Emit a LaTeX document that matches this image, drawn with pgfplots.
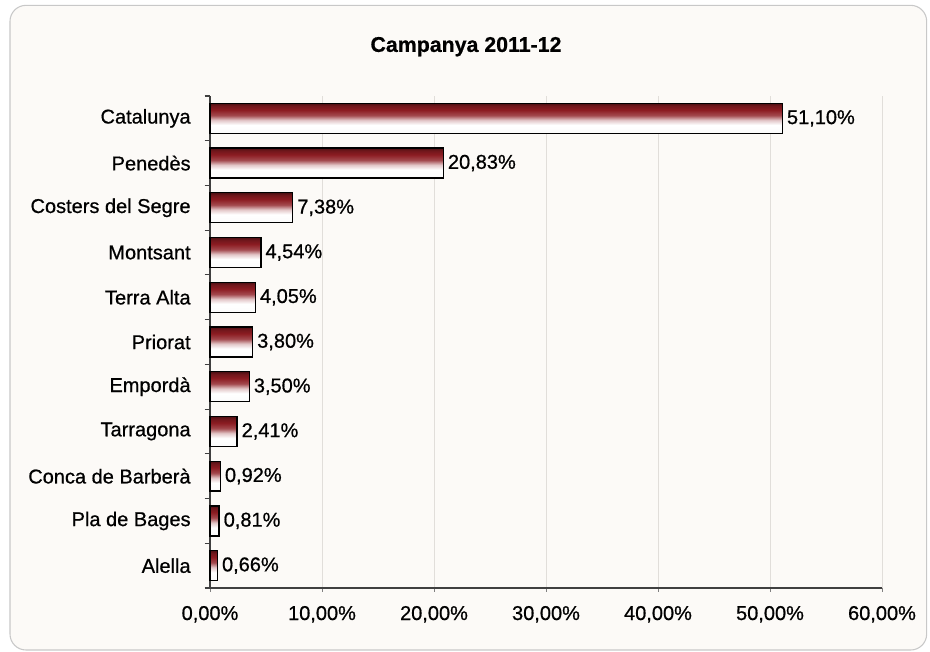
\documentclass[border=0pt]{standalone}
\usepackage{pgfplots}
\pgfplotsset{compat=1.18}
\usepackage{fontspec}
\setmainfont{Liberation Sans}[FakeBold=0.7]

\definecolor{barred}{RGB}{140,28,34}
\definecolor{bgpaper}{RGB}{252,250,247}
\definecolor{framegray}{RGB}{200,200,200}
\definecolor{gridgray}{RGB}{225,222,218}

% vertical gradient of the bars: white below, dark red on top
% (25bp = bottom edge of the bar, 75bp = top edge)
\pgfdeclareverticalshading{barshade}{100bp}{%
  color(0bp)=(white); color(25bp)=(white!97!gray); color(39bp)=(white);
  color(47bp)=(barred!25!white); color(55bp)=(barred!80!white);
  color(64bp)=(barred); color(71bp)=(barred!80!black); color(75bp)=(barred!55!black);
  color(100bp)=(barred!55!black)}

\pgfplotstableread{
pos share
0  0.66
1  0.81
2  0.92
3  2.41
4  3.50
5  3.80
6  4.05
7  4.54
8  7.38
9  20.83
10 51.10
}\shares

\begin{document}
\begin{tikzpicture}
% page and frame, in reference pixels (1px = 0.75pt)
\path[use as bounding box] (0pt,0pt) rectangle (697.5pt,489pt);
\draw[framegray, fill=bgpaper, line width=0.8pt, rounded corners=12pt] (7.5pt,1.5pt) rectangle (695pt,485pt);

\node[font=\bfseries\fontsize{16}{19}\selectfont] at (349.5pt,454pt) {Campanya 2011-12};

\begin{axis}[
    at={(157.5pt,48pt)}, anchor=south west,
    scale only axis,
    width=504pt, height=369pt,
    xbar, bar shift=0pt,
    bar width=0.67,
    xmin=0, xmax=60,
    ymin=-0.5, ymax=10.5,
    axis x line*=bottom, axis y line*=left,
    axis line style={black!75, line width=0.8pt},
    xtick={0,10,...,60},
    xmajorgrids, major grid style={gridgray, line width=0.6pt},
    tick align=outside,
    major tick length=3pt,
    xticklabel={\pgfmathprintnumber[fixed,fixed zerofill,precision=2,use comma]{\tick}\%},
    xticklabel style={font=\fontsize{15}{18}\selectfont, yshift=-7pt},
    ytick={0,...,10},
    yticklabels={Alella, Pla de Bages, Conca de Barberà, Tarragona, Empordà, Priorat,
                 Terra Alta, Montsant, Costers del Segre, Penedès, Catalunya},
    yticklabel style={font=\fontsize{15}{18}\selectfont, xshift=-8pt},
    major y tick style={draw=none},
    minor ytick={-0.5,0.5,...,10.5},
    minor y tick style={black!75, line width=0.8pt},
    minor tick length=4pt,
    /pgf/number format/assume math mode=true,
    nodes near coords={\pgfmathprintnumber[fixed,fixed zerofill,precision=2,use comma]{\pgfplotspointmeta}\%},
    nodes near coords style={font=\fontsize{15}{18}\selectfont, anchor=west, inner xsep=3pt},
    point meta=explicit,
    clip=false,
]
% one plot per bar, so that each bar gets its own gradient
\pgfplotsinvokeforeach{0,...,10}{
  \addplot[draw=black, line width=1pt, shade, shading=barshade,
           restrict y to domain=#1:#1]
    table[x=share, y=pos, meta=share] {\shares};
}
\end{axis}
\end{tikzpicture}
\end{document}
